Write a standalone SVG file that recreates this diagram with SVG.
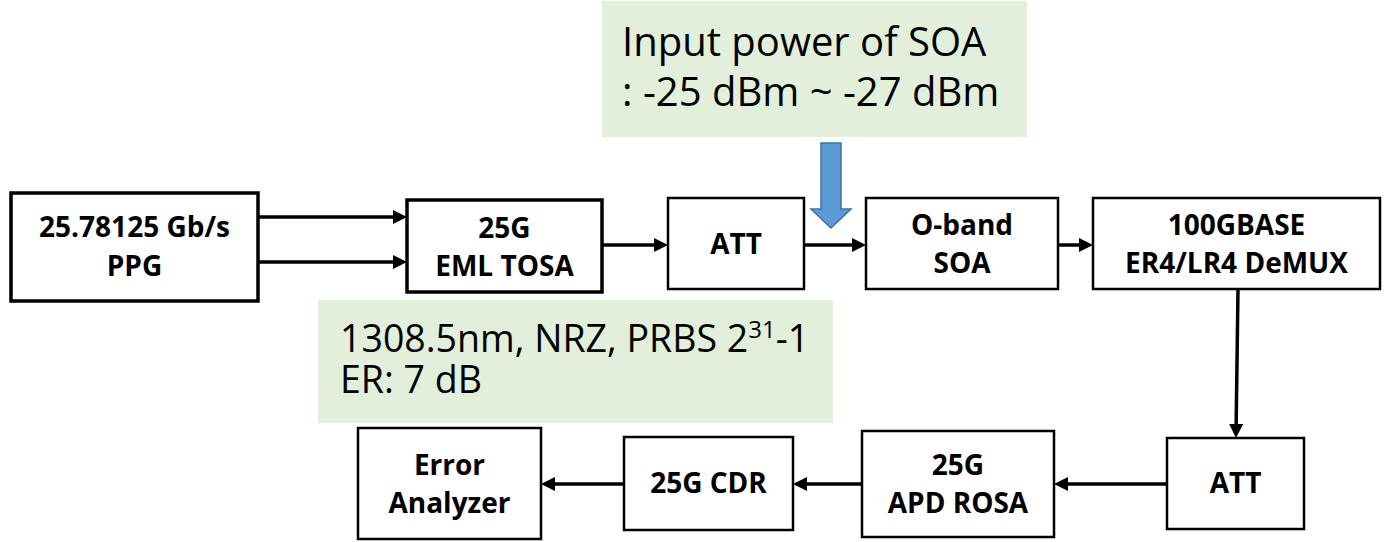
<svg xmlns="http://www.w3.org/2000/svg" width="1384" height="542" viewBox="0 0 1384 542">
<style>
.box{fill:#fff;stroke:#000;stroke-width:2.5}
.thick{stroke-width:3.5}
.lbl{font-family:"Open Sans","Liberation Sans",sans-serif;font-weight:bold;font-size:28px;fill:#000;text-anchor:middle}
.note{fill:#E2EFDA}
.nt{font-family:"Open Sans","Liberation Sans",sans-serif;font-size:40px;fill:#000}
.nt2{font-family:"Open Sans","Liberation Sans",sans-serif;font-size:37.5px;fill:#000}
.conn{stroke:#000;stroke-width:3.5;fill:none;marker-end:url(#ah)}
</style>
<defs>
<marker id="ah" viewBox="0 0 14 14" refX="4" refY="7" markerWidth="14" markerHeight="14" markerUnits="userSpaceOnUse" orient="auto">
<path d="M0,0 L14,7 L0,14 z" fill="#000"/>
</marker>
</defs>
<g id="note-soa">
<rect class="note" x="602" y="1" width="425" height="136"/>
<text class="nt" x="622" y="56">Input power of SOA</text>
<text class="nt" x="622" y="106">: -25 dBm ~ -27 dBm</text>
</g>
<g id="note-signal">
<rect class="note" x="318" y="300" width="515" height="123"/>
<text class="nt2" x="340" y="352">1308.5nm, NRZ, PRBS 2<tspan font-size="24" dy="-14">31</tspan><tspan dy="14">-1</tspan></text>
<text class="nt2" x="340" y="393">ER: 7 dB</text>
</g>
<g id="ppg">
<rect class="box thick" x="11" y="193" width="247" height="108"/>
<text class="lbl" x="134.5" y="237">25.78125 Gb/s</text>
<text class="lbl" x="134.5" y="276">PPG</text>
</g>
<g id="tosa">
<rect class="box thick" x="407" y="200" width="195" height="92"/>
<text class="lbl" x="504.5" y="238">25G</text>
<text class="lbl" x="504.5" y="276">EML TOSA</text>
</g>
<g id="att1">
<rect class="box" x="668" y="198" width="136" height="91"/>
<text class="lbl" x="736" y="254">ATT</text>
</g>
<g id="soa">
<rect class="box" x="866" y="198" width="192" height="91"/>
<text class="lbl" x="962" y="235">O-band</text>
<text class="lbl" x="962" y="273">SOA</text>
</g>
<g id="demux">
<rect class="box" x="1093" y="198" width="287" height="91"/>
<text class="lbl" x="1236.5" y="235">100GBASE</text>
<text class="lbl" x="1236.5" y="273">ER4/LR4 DeMUX</text>
</g>
<g id="att2">
<rect class="box" x="1167" y="438" width="137" height="91"/>
<text class="lbl" x="1235.5" y="493">ATT</text>
</g>
<g id="rosa">
<rect class="box" x="862" y="431" width="192" height="106"/>
<text class="lbl" x="958" y="475">25G</text>
<text class="lbl" x="958" y="513">APD ROSA</text>
</g>
<g id="cdr">
<rect class="box" x="624" y="437" width="169" height="93"/>
<text class="lbl" x="708.5" y="493">25G CDR</text>
</g>
<g id="analyzer">
<rect class="box" x="358" y="428" width="183" height="111"/>
<text class="lbl" x="449.5" y="475">Error</text>
<text class="lbl" x="449.5" y="513">Analyzer</text>
</g>
<g id="connectors">
<line class="conn" x1="258" y1="217" x2="397" y2="217"/>
<line class="conn" x1="258" y1="262" x2="397" y2="262"/>
<line class="conn" x1="602" y1="245" x2="658" y2="245"/>
<line class="conn" x1="804" y1="245" x2="856" y2="245"/>
<line class="conn" x1="1058" y1="245" x2="1083" y2="245"/>
<line class="conn" x1="1238" y1="289" x2="1236.1" y2="428"/>
<line class="conn" x1="1167" y1="484" x2="1064" y2="484"/>
<line class="conn" x1="862" y1="484" x2="803" y2="484"/>
<line class="conn" x1="624" y1="484" x2="551" y2="484"/>
<polygon points="821,143 841,143 841,209 851,209 831,228 811,209 821,209" fill="#5B9BD5" stroke="#41719C" stroke-width="1.5"/>
</g>
</svg>
